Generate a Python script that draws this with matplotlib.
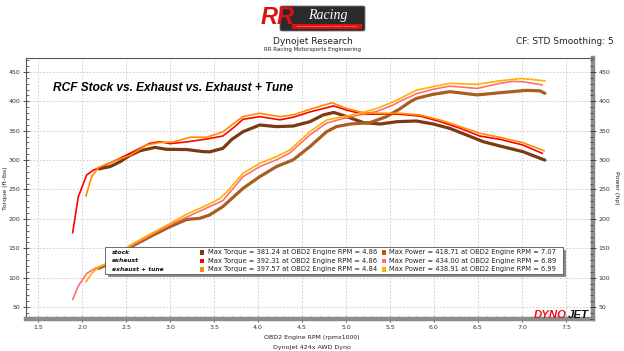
import matplotlib
matplotlib.use("Agg")
import matplotlib.pyplot as plt
from matplotlib.patches import Rectangle, FancyBboxPatch
from matplotlib.ticker import MultipleLocator

# ---- data (rpm x1000, ft-lbs / hp) ----
stock_tq_rpm = [2.19, 2.32, 2.43, 2.545, 2.66, 2.83, 2.96, 3.19, 3.38, 3.45, 3.6, 3.7, 3.83, 4.02, 4.21,
                4.4, 4.59, 4.74, 4.86, 5.01, 5.2, 5.39, 5.58, 5.8, 5.99, 6.18, 6.37, 6.56, 6.75, 7.01, 7.26]
stock_tq = [285, 289, 297, 308, 316, 321.7, 318.4, 318, 314.4, 314, 320, 335, 348.4, 359.8, 357,
            358, 365.4, 376.8, 381.2, 374, 363.7, 361.5, 365.4, 366.6, 361.5, 354, 342.8, 331.4, 324, 314.4, 300]

exh_tq_rpm = [1.894, 1.958, 2.053, 2.13, 2.2, 2.43, 2.545, 2.77, 2.886, 3.0, 3.19, 3.42, 3.6, 3.72, 3.83,
              4.02, 4.25, 4.4, 4.59, 4.86, 5.01, 5.2, 5.46, 5.61, 5.84, 6.07, 6.3, 6.52, 6.75, 7.01, 7.23]
exh_tq = [176.5, 237.7, 274.7, 283, 287, 303, 311.6, 328.6, 331.4, 328, 331, 336, 341, 355, 369.5,
          374, 368.6, 373, 382, 392.3, 385, 378, 378.5, 378, 375, 365.5, 354, 341, 335.4, 325.7, 311.6]

tune_tq_rpm = [2.045, 2.11, 2.19, 2.394, 2.545, 2.735, 2.886, 3.04, 3.23, 3.42, 3.6, 3.72, 3.83, 4.02,
               4.25, 4.4, 4.59, 4.84, 5.01, 5.2, 5.46, 5.61, 5.84, 6.07, 6.3, 6.52, 6.75, 7.01, 7.25]
tune_tq = [239, 272, 287.7, 300, 308, 325.7, 330, 331, 339, 339, 348, 362, 374, 379.7,
           374, 377, 386.5, 397.6, 388, 380.7, 379.6, 379.7, 376.8, 368.3, 357, 345.6, 338.8, 329.7, 316]

stock_hp_rpm = [2.19, 2.32, 2.545, 2.81, 3.0, 3.19, 3.34, 3.45, 3.6, 3.83, 4.02, 4.21, 4.4, 4.59, 4.78,
                4.89, 5.05, 5.27, 5.46, 5.61, 5.73, 5.8, 5.99, 6.18, 6.49, 6.75, 7.05, 7.2, 7.26]
stock_hp = [115.8, 124.4, 151.6, 172.5, 186.7, 199, 201, 206.6, 220.8, 252, 271.8, 289, 300.5, 323, 348.4,
            357, 361.5, 363.7, 374, 387, 399.4, 405, 412, 416.5, 411, 414.7, 418.7, 418, 413.7]

exh_hp_rpm = [1.894, 1.958, 2.053, 2.15, 2.25, 2.32, 2.545, 2.81, 3.0, 3.19, 3.45, 3.6, 3.83, 4.02, 4.21,
              4.36, 4.59, 4.78, 4.97, 5.16, 5.35, 5.54, 5.61, 5.73, 5.8, 5.99, 6.18, 6.49, 6.75, 6.89, 7.01, 7.23]
exh_hp = [63, 85.7, 107, 115.8, 121.5, 126, 153, 175, 190, 203, 220.8, 231, 271.8, 289, 300.5,
          312, 343, 363, 371, 377, 383, 394, 400, 408, 413, 420.5, 426, 422, 430.7, 434, 433.5, 428]

tune_hp_rpm = [2.045, 2.11, 2.19, 2.32, 2.545, 2.81, 3.0, 3.19, 3.45, 3.57, 3.64, 3.83, 4.02, 4.21, 4.36,
               4.59, 4.78, 4.97, 5.16, 5.35, 5.54, 5.73, 5.8, 5.99, 6.18, 6.49, 6.75, 6.99, 7.26]
tune_hp = [93, 107, 118, 127, 155, 177, 192, 208, 225.3, 235, 245, 277.6, 294.6, 306, 317,
           348.4, 368.3, 374, 379.7, 388, 399.4, 413.7, 419, 425, 430.7, 429, 435, 438.9, 435]

run_names = ["stock", "exhaust", "exhaust + tune"]
max_torque = ["381.24", "392.31", "397.57"]
max_torque_rpm = ["4.86", "4.86", "4.84"]
max_power = ["418.71", "434.00", "438.91"]
max_power_rpm = ["7.07", "6.89", "6.99"]

tq_colors = ["#7b3a12", "#ff0000", "#ff8c00"]
hp_colors = ["#a85e20", "#ff6f6f", "#ffb000"]

W, H = 624, 351
fig = plt.figure(figsize=(W / 100, H / 100), dpi=100)


def fx(x):
    return x / W


def fy(y):
    return 1 - y / H


ax = fig.add_axes([fx(26), fy(319), fx(593) - fx(26), fy(58) - fy(319)])
ax.set_xlim(1.3636, 7.807)
ax.set_ylim(29.6, 473.8)

ax.grid(True, which="major", color="#c8c8c8", linestyle=(0, (2, 2)), linewidth=0.6)
ax.set_axisbelow(True)

ax.plot(stock_tq_rpm, stock_tq, color=tq_colors[0], lw=2.3, solid_capstyle="round")
ax.plot(stock_hp_rpm, stock_hp, color=hp_colors[0], lw=2.3, solid_capstyle="round")
ax.plot(exh_tq_rpm, exh_tq, color=tq_colors[1], lw=1.2)
ax.plot(exh_hp_rpm, exh_hp, color=hp_colors[1], lw=1.2)
ax.plot(tune_tq_rpm, tune_tq, color=tq_colors[2], lw=1.2)
ax.plot(tune_hp_rpm, tune_hp, color=hp_colors[2], lw=1.2)

ax.xaxis.set_minor_locator(MultipleLocator(0.1))
ax.yaxis.set_minor_locator(MultipleLocator(10))
ax.set_xticks([1.5 + 0.5 * i for i in range(13)])
ax.set_xticklabels(["%.1f" % (1.5 + 0.5 * i) for i in range(13)])
ax.set_yticks(range(50, 451, 50))

for sp in ["top", "left"]:
    ax.spines[sp].set_color("#555555")
    ax.spines[sp].set_linewidth(0.8)
for sp in ["bottom", "right"]:
    ax.spines[sp].set_color("#8c8c8c")
    ax.spines[sp].set_linewidth(3.2)

ax.tick_params(which="major", direction="inout", length=4, width=0.6, color="#333333",
               labelsize=4.5, labelcolor="#333333", pad=2)
ax.tick_params(which="minor", direction="in", length=2.5, width=0.5, color="#333333")
ax.tick_params(axis="x", which="both", top=False)
ax.tick_params(axis="y", which="both", right=False)

ax2 = ax.twinx()
ax2.set_ylim(ax.get_ylim())
ax2.yaxis.set_minor_locator(MultipleLocator(10))
ax2.set_yticks(range(50, 451, 50))
for sp in ax2.spines.values():
    sp.set_visible(False)
ax2.tick_params(which="major", direction="inout", length=4, width=0.6, color="#333333",
                labelsize=4.5, labelcolor="#333333", pad=2)
ax2.tick_params(which="minor", direction="in", length=2.5, width=0.5, color="#333333")

# axis titles
fig.text(fx(312), fy(338), "OBD2 Engine RPM (rpmx1000)", ha="center", va="center", fontsize=4.5, color="#222222")
fig.text(fx(312), fy(347), "DynoJet 424x AWD Dyno", ha="center", va="center", fontsize=4.5, color="#222222")
fig.text(fx(6), fy(188), "Torque (ft-lbs)", rotation=90, ha="center", va="center", fontsize=4.5, color="#222222")
fig.text(fx(617), fy(188), "Power (hp)", rotation=-90, ha="center", va="center", fontsize=4.5, color="#222222")

# chart title inside plot
fig.text(fx(53), fy(88), "RCF Stock vs. Exhaust vs. Exhaust + Tune", ha="left", va="center",
         fontsize=8.6, fontweight="bold", fontstyle="italic", family="Liberation Sans", color="black")

# header
fig.text(fx(313), fy(42), "Dynojet Research", ha="center", va="center", fontsize=6.5, color="#222222")
fig.text(fx(313), fy(50), "RR Racing Motorsports Engineering", ha="center", va="center", fontsize=4, color="#222222")
fig.text(fx(614), fy(42), "CF: STD Smoothing: 5", ha="right", va="center", fontsize=6.5, color="#222222")

# RR Racing logo (rough)
fig.patches.append(FancyBboxPatch((fx(280), fy(31)), fx(85), fy(6) - fy(31),
                                  boxstyle="round,pad=0,rounding_size=0.004", transform=fig.transFigure,
                                  facecolor="#2b2b2b", edgecolor="#777777", lw=0.6))
fig.patches.append(Rectangle((fx(292), fy(29)), fx(70), fy(24) - fy(29), transform=fig.transFigure,
                             facecolor="#e01010", edgecolor="none"))
fig.text(fx(278), fy(17), "RR", ha="center", va="center", fontsize=17, fontweight="bold",
         fontstyle="italic", family="Liberation Sans", color="#e01010")
fig.text(fx(328), fy(15), "Racing", ha="center", va="center", fontsize=10, fontstyle="italic",
         family="Liberation Serif", color="white")
fig.text(fx(327), fy(26.5), "MOTORSPORTS ENGINEERING & TUNING SINCE 2001", ha="center", va="center",
         fontsize=1.6, color="white")

# DynoJet logo bottom right
fig.text(fx(534), fy(318), "DYNO", ha="left", va="baseline", fontsize=8.2, fontweight="bold",
         fontstyle="italic", family="Liberation Sans", color="#e8101e")
fig.text(fx(568), fy(318), "JET", ha="left", va="baseline", fontsize=8.2, fontweight="bold",
         fontstyle="italic", family="Liberation Sans", color="#111111")

# legend box with shadow
fig.patches.append(Rectangle((fx(108), fy(277)), fx(458), fy(250) - fy(277),
                             transform=fig.transFigure, facecolor="#8a8a8a", edgecolor="none", zorder=5))
fig.patches.append(Rectangle((fx(105), fy(274)), fx(458), fy(247) - fy(274), transform=fig.transFigure,
                             facecolor="white", edgecolor="#555555", lw=0.6, zorder=6))
row_y = [252.3, 260.7, 269.3]
for i in range(3):
    y = row_y[i]
    fig.text(fx(112), fy(y), run_names[i], ha="left", va="center", fontsize=4.3, fontweight="bold",
             fontstyle="italic", color="#111111", zorder=7)
    fig.patches.append(Rectangle((fx(200), fy(y + 2.2)), fx(4.4), fy(y - 2.2) - fy(y + 2.2),
                                 transform=fig.transFigure, facecolor=tq_colors[i], edgecolor="none", zorder=7))
    fig.text(fx(208), fy(y), "Max Torque = %s at OBD2 Engine RPM = %s" % (max_torque[i], max_torque_rpm[i]),
             ha="left", va="center", fontsize=4.9, color="#222222", zorder=7)
    fig.patches.append(Rectangle((fx(382), fy(y + 2.2)), fx(4.4), fy(y - 2.2) - fy(y + 2.2),
                                 transform=fig.transFigure, facecolor=hp_colors[i], edgecolor="none", zorder=7))
    fig.text(fx(389), fy(y), "Max Power = %s at OBD2 Engine RPM = %s" % (max_power[i], max_power_rpm[i]),
             ha="left", va="center", fontsize=4.9, color="#222222", zorder=7)

fig.savefig("out.png", dpi=100)
